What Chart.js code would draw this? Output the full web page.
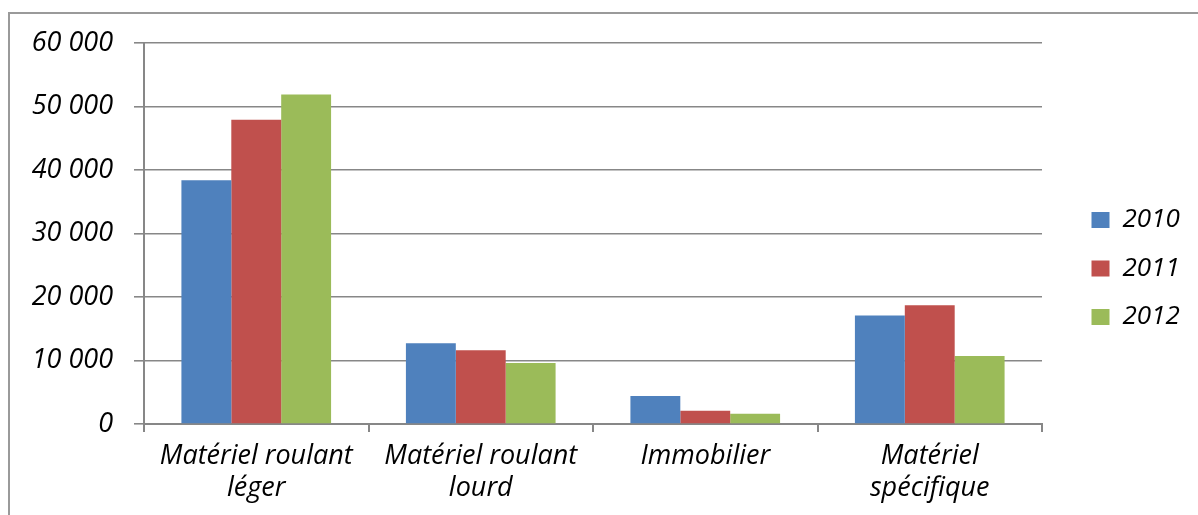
<!DOCTYPE html>
<html lang="fr">
<head>
<meta charset="utf-8">
<title>Investissements par catégorie</title>
<script src="https://cdn.jsdelivr.net/npm/chart.js@4/dist/chart.umd.min.js"></script>
<style>
  html, body { margin: 0; padding: 0; background: #ffffff; overflow: hidden; }
  #wrap { position: relative; width: 1198px; height: 515px; }
  #frame {
    position: absolute; left: 8px; top: 12px; width: 1300px; height: 600px;
    border: 2px solid #9a9a9a; box-sizing: border-box; pointer-events: none;
  }
  canvas { position: absolute; left: 0; top: 0; }
</style>
</head>
<body>
<div id="wrap">
  <canvas id="chart" width="1198" height="515"></canvas>
  <div id="frame"></div>
</div>
<script>
// Categories (multi-line labels) and yearly values
const categories = [
  ['Matériel roulant', 'léger'],
  ['Matériel roulant', 'lourd'],
  ['Immobilier'],
  ['Matériel', 'spécifique']
];
const years = ['2010', '2011', '2012'];
const values2010 = [38400, 12700, 4400, 17100];
const values2011 = [47900, 11600, 2100, 18700];
const values2012 = [51900, 9600, 1600, 10700];
const yTickLabels = ['0', '10 000', '20 000', '30 000', '40 000', '50 000', '60 000'];

const seriesColors = ['#4F81BD', '#C0504D', '#9BBB59'];
const axisGray = '#878787';
const axisFont = { family: '"Open Sans", sans-serif', style: 'italic', size: 27 };
const legendFont = { family: '"Open Sans", sans-serif', style: 'italic', size: 26 };

// Legend placement: fixed width box, then moved to its column
const legendWidth = 156;
const legendShiftX = 27;
const legendFirstCenterY = 220;

const legendPlacement = {
  id: 'legendPlacement',
  afterInit(chart) {
    const lg = chart.legend;
    const fit = lg.fit.bind(lg);
    lg.fit = function () { fit(); this.width = legendWidth; };
  },
  afterLayout(chart) {
    const lg = chart.legend;
    const pad = lg.options.labels.padding;
    const itemH = Math.max(lg.options.labels.boxHeight, legendFont.size);
    const targetTop = legendFirstCenterY - itemH / 2 - pad;
    const dy = targetTop - lg.top;
    lg.top += dy; lg.bottom += dy;
    lg.left += legendShiftX; lg.right += legendShiftX;
  }
};

const seriesValues = [values2010, values2011, values2012];

new Chart(document.getElementById('chart'), {
  type: 'bar',
  data: {
    labels: categories,
    datasets: years.map((y, i) => ({
      label: y,
      data: seriesValues[i],
      backgroundColor: seriesColors[i],
      borderWidth: 0,
      categoryPercentage: 3 / 4.5,
      barPercentage: 1
    }))
  },
  options: {
    responsive: false,
    animation: false,
    devicePixelRatio: 1,
    layout: { padding: { top: 43, right: 0, bottom: 0, left: 0 } },
    plugins: {
      tooltip: { enabled: false },
      legend: {
        position: 'right',
        align: 'start',
        labels: {
          color: '#000000',
          font: legendFont,
          boxWidth: 18,
          boxHeight: 16,
          padding: 22.5
        }
      }
    },
    scales: {
      x: {
        afterFit(scale) { scale.height = 91; },
        grid: {
          drawOnChartArea: false,
          drawTicks: true,
          tickLength: 8,
          color: axisGray,
          lineWidth: 2,
          offset: true
        },
        border: { display: true, color: axisGray, width: 2 },
        ticks: {
          color: '#000000',
          font: Object.assign({ lineHeight: 1.19 }, axisFont),
          padding: 8,
          maxRotation: 0,
          autoSkip: false
        }
      },
      y: {
        min: 0,
        max: 60000,
        afterFit(scale) { scale.width = 144; },
        grid: {
          color: axisGray,
          lineWidth: 1.6,
          tickLength: 10,
          drawTicks: true
        },
        border: { display: true, color: axisGray, width: 2 },
        ticks: {
          stepSize: 10000,
          color: '#000000',
          font: axisFont,
          padding: 21,
          callback: (value, index) => yTickLabels[index]
        }
      }
    }
  },
  plugins: [legendPlacement]
});
</script>
</body>
</html>
